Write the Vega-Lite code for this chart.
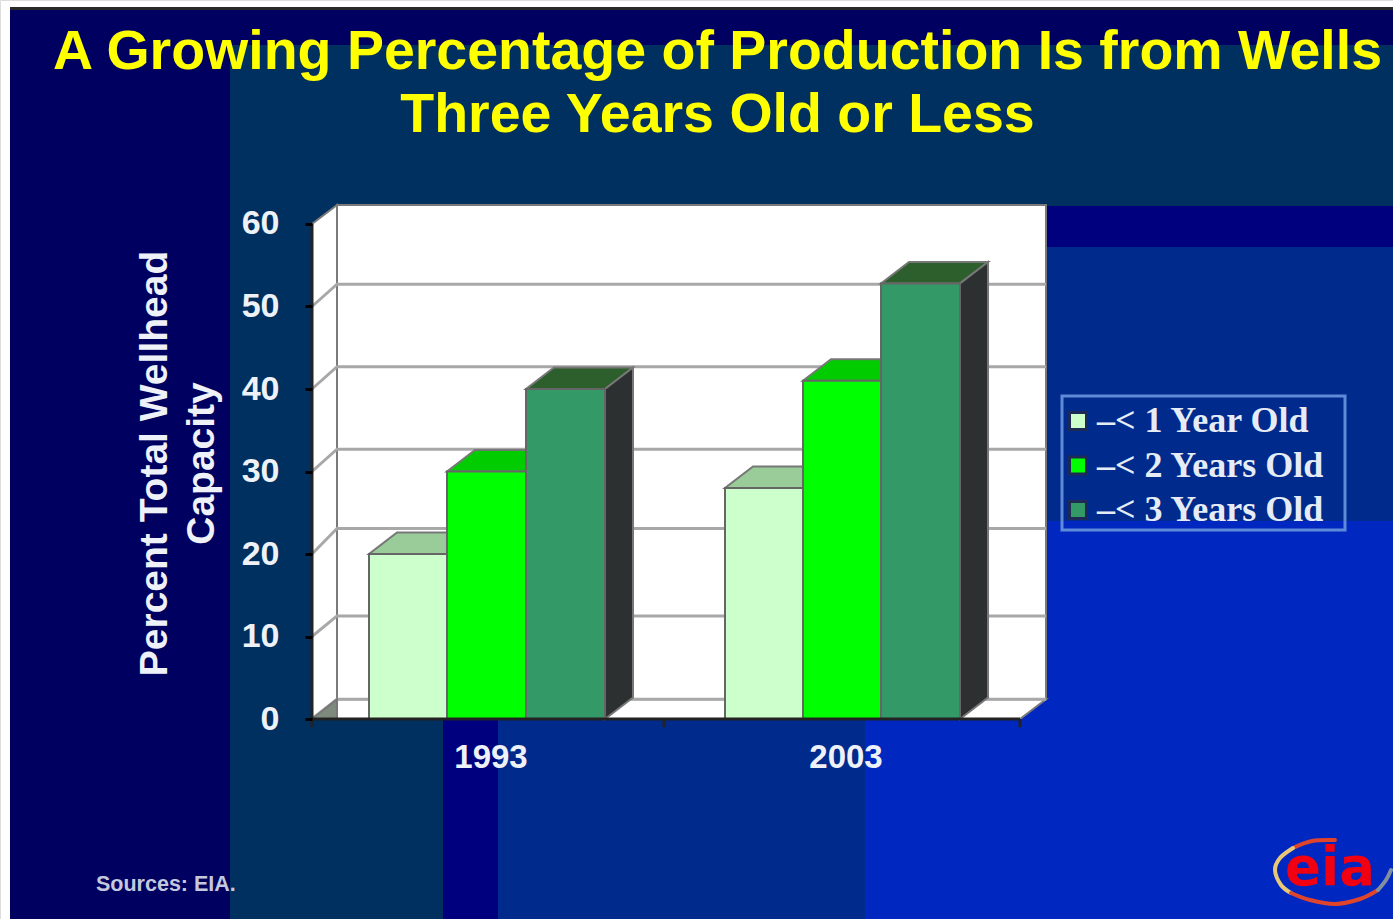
{
"$schema":"https://vega.github.io/schema/vega-lite/v6.json",
"width":1393,"height":919,"padding":0,"autosize":{"type":"none"},"background":"#ffffff",
"title":{"text":["A Growing Percentage of Production Is from Wells","Three Years Old or Less"],"font":"Liberation Sans","fontWeight":"bold","fontSize":55.5,"color":"#ffff00","anchor":"middle","frame":"group","dx":21,"offset":-143,"baseline":"top","lineHeight":63},
"datasets":{
"zones":[
{"zone":"navy","x0":10,"x1":1393,"y0":10,"y1":919},
{"zone":"rule","x0":10,"x1":1393,"y0":7,"y1":10},
{"zone":"teal","x0":230,"x1":1393,"y0":45,"y1":206},
{"zone":"teal","x0":230,"x1":443,"y0":206,"y1":919},
{"zone":"indigo","x0":1046,"x1":1393,"y0":206,"y1":247},
{"zone":"indigo","x0":443,"x1":498,"y0":719,"y1":919},
{"zone":"blue","x0":498,"x1":865,"y0":719,"y1":919},
{"zone":"blue","x0":1046,"x1":1393,"y0":247,"y1":521},
{"zone":"bright","x0":865,"x1":1393,"y0":719,"y1":919},
{"zone":"bright","x0":1000,"x1":1393,"y0":521,"y1":719}
],
"ring":[
{"arc":"a","n":1,"px":1335,"py":840},{"arc":"a","n":2,"px":1312,"py":841},{"arc":"a","n":3,"px":1293,"py":848},
{"arc":"b","n":4,"px":1293,"py":848},{"arc":"b","n":5,"px":1280,"py":858},{"arc":"b","n":6,"px":1275,"py":870},{"arc":"b","n":7,"px":1281,"py":885},{"arc":"b","n":8,"px":1291,"py":893},
{"arc":"c","n":9,"px":1291,"py":893},{"arc":"c","n":10,"px":1310,"py":900},{"arc":"c","n":11,"px":1335,"py":904},{"arc":"c","n":12,"px":1360,"py":899},{"arc":"c","n":13,"px":1378,"py":890},
{"arc":"d","n":14,"px":1378,"py":890},{"arc":"d","n":15,"px":1386,"py":880},{"arc":"d","n":16,"px":1391,"py":870}
],
"shell":[
{"id":"back","u":337,"low":2.4,"high":62.3},{"id":"back","u":1046,"low":2.4,"high":62.3},
{"id":"wall","u":312,"low":0,"high":60},{"id":"wall","u":337,"low":2.4,"high":62.3},
{"id":"floor","u":312,"low":0,"high":0},{"id":"floor","u":337,"low":0,"high":2.4},{"id":"floor","u":1020,"low":0,"high":2.4},{"id":"floor","u":1046,"low":2.4,"high":2.4}
],
"grid":[
{"tick":50,"u":312,"v":50},{"tick":50,"u":337,"v":52.7},{"tick":50,"u":1046,"v":52.7},
{"tick":40,"u":312,"v":40},{"tick":40,"u":337,"v":42.7},{"tick":40,"u":1046,"v":42.7},
{"tick":30,"u":312,"v":30},{"tick":30,"u":337,"v":32.7},{"tick":30,"u":1046,"v":32.7},
{"tick":20,"u":312,"v":20},{"tick":20,"u":337,"v":23.1},{"tick":20,"u":1046,"v":23.1},
{"tick":10,"u":312,"v":10},{"tick":10,"u":337,"v":12.5},{"tick":10,"u":1046,"v":12.5},
{"tick":0,"u":312,"v":0},{"tick":0,"u":337,"v":2.4},{"tick":0,"u":1046,"v":2.4}
],
"faces":[
{"id":"k","face":"corner","u":312,"low":0,"high":0},{"id":"k","face":"corner","u":337,"low":0,"high":2.4},
{"id":"a1","face":"top1","u":369,"low":20,"high":20},{"id":"a1","face":"top1","u":397,"low":20,"high":22.6},{"id":"a1","face":"top1","u":447,"low":20,"high":22.6},{"id":"a1","face":"top1","u":475,"low":22.6,"high":22.6},
{"id":"a2","face":"top2","u":447,"low":30,"high":30},{"id":"a2","face":"top2","u":475,"low":30,"high":32.6},{"id":"a2","face":"top2","u":526,"low":30,"high":32.6},{"id":"a2","face":"top2","u":554,"low":32.6,"high":32.6},
{"id":"a3","face":"top3","u":526,"low":40,"high":40},{"id":"a3","face":"top3","u":554,"low":40,"high":42.6},{"id":"a3","face":"top3","u":605,"low":40,"high":42.6},{"id":"a3","face":"top3","u":633,"low":42.6,"high":42.6},
{"id":"as","face":"side","u":605,"low":0,"high":40},{"id":"as","face":"side","u":633,"low":2.6,"high":42.6},
{"id":"b1","face":"top1","u":725,"low":28,"high":28},{"id":"b1","face":"top1","u":753,"low":28,"high":30.6},{"id":"b1","face":"top1","u":803,"low":28,"high":30.6},{"id":"b1","face":"top1","u":831,"low":30.6,"high":30.6},
{"id":"b2","face":"top2","u":803,"low":41,"high":41},{"id":"b2","face":"top2","u":831,"low":41,"high":43.6},{"id":"b2","face":"top2","u":881,"low":41,"high":43.6},{"id":"b2","face":"top2","u":909,"low":43.6,"high":43.6},
{"id":"b3","face":"top3","u":881,"low":52.8,"high":52.8},{"id":"b3","face":"top3","u":909,"low":52.8,"high":55.4},{"id":"b3","face":"top3","u":960,"low":52.8,"high":55.4},{"id":"b3","face":"top3","u":988,"low":55.4,"high":55.4},
{"id":"bs","face":"side","u":960,"low":0,"high":52.8},{"id":"bs","face":"side","u":988,"low":2.6,"high":55.4}
],
"bars":[
{"year":1993,"age":"–< 1 Year Old","value":20,"left":369,"right":447},
{"year":1993,"age":"–< 2 Years Old","value":30,"left":447,"right":526},
{"year":1993,"age":"–< 3 Years Old","value":40,"left":526,"right":605},
{"year":2003,"age":"–< 1 Year Old","value":28,"left":725,"right":803},
{"year":2003,"age":"–< 2 Years Old","value":41,"left":803,"right":881},
{"year":2003,"age":"–< 3 Years Old","value":52.8,"left":881,"right":960}
],
"axisLines":[
{"u0":312,"u1":312,"v0":0,"v1":60},
{"u0":312,"u1":1020,"v0":0,"v1":0},
{"u0":312,"u1":312,"v0":0,"v1":-1},
{"u0":664,"u1":664,"v0":0,"v1":-1},
{"u0":1020,"u1":1020,"v0":0,"v1":-1}
],
"years":[
{"year":"1993","u":491,"v":-4.75},
{"year":"2003","u":846,"v":-4.75}
]
},
"resolve":{"scale":{"y":"independent","fill":"independent"}},
"layer":[
{"data":{"name":"zones"},"mark":{"type":"rect"},
"encoding":{
"x":{"field":"x0","type":"quantitative","scale":{"domain":[0,1393],"nice":false,"zero":false},"axis":null},
"x2":{"field":"x1"},
"y":{"field":"y0","type":"quantitative","scale":{"domain":[919,0],"nice":false,"zero":false},"axis":null},
"y2":{"field":"y1"},
"fill":{"field":"zone","type":"nominal","scale":{"domain":["navy","rule","teal","indigo","blue","bright"],"range":["#000060","#2a2a2a","#00305f","#00007f","#002a8c","#0028c0"]},"legend":null}
}},
{"data":{"values":[{"label":"Sources: EIA.","px":96,"py":885}]},"mark":{"type":"text","font":"Liberation Sans","fontWeight":"bold","fontSize":21.5,"color":"#c4c8dc","align":"left","baseline":"middle"},
"encoding":{"x":{"field":"px","type":"quantitative","axis":null},"y":{"field":"py","type":"quantitative","scale":{"domain":[919,0],"nice":false,"zero":false},"axis":null},"text":{"field":"label"}}},
{"data":{"name":"ring"},"mark":{"type":"line","interpolate":"cardinal","strokeWidth":4,"strokeCap":"round"},
"encoding":{"x":{"field":"px","type":"quantitative","axis":null},"y":{"field":"py","type":"quantitative","scale":{"domain":[919,0],"nice":false,"zero":false},"axis":null},"order":{"field":"n","type":"quantitative"},"stroke":{"field":"arc","type":"nominal","scale":{"domain":["a","b","c","d"],"range":["#e0452c","#e8c878","#e0452c","#7f8f9f"]},"legend":null}}},
{"data":{"values":[{"label":"eia","px":1330,"py":885}]},"mark":{"type":"text","font":"DejaVu Sans","fontWeight":"bold","fontSize":53,"color":"#f00010","align":"center","baseline":"alphabetic"},
"encoding":{"x":{"field":"px","type":"quantitative","axis":null},"y":{"field":"py","type":"quantitative","scale":{"domain":[919,0],"nice":false,"zero":false},"axis":null},"text":{"field":"label"}}},
{"data":{"values":[{"box":"legend frame","x0":1062,"x1":1345,"y0":396,"y1":530}]},"mark":{"type":"rect","fillOpacity":0,"stroke":"#5f8ad8","strokeWidth":3},
"encoding":{"x":{"field":"x0","type":"quantitative","axis":null},"x2":{"field":"x1"},"y":{"field":"y0","type":"quantitative","scale":{"domain":[919,0],"nice":false,"zero":false},"axis":null},"y2":{"field":"y1"}}},
{"data":{"name":"shell"},"mark":{"type":"area","fill":"#ffffff","stroke":"#7a7a7a","strokeWidth":2,"opacity":1},
"encoding":{
"x":{"field":"u","type":"quantitative","axis":null},
"y":{"field":"low","type":"quantitative","scale":{"domain":[-24.24,87.15],"nice":false,"zero":false},"axis":{"orient":"left","offset":-312,"values":[0,10,20,30,40,50,60],"grid":false,"domain":false,"tickColor":"#000000","tickSize":7,"tickWidth":3,"labelFont":"Liberation Sans","labelFontWeight":"bold","labelFontSize":34,"labelColor":"#eef2f8","labelPadding":26,"title":["Percent Total Wellhead","Capacity"],"titleFont":"Liberation Sans","titleFontWeight":"bold","titleFontSize":39,"titleColor":"#eef2f8","titleLineHeight":47,"titleX":-158,"titleY":463,"titleAngle":-90,"titleAlign":"center","titleBaseline":"middle","zindex":1}},
"y2":{"field":"high"},
"detail":{"field":"id"}
}},
{"data":{"name":"grid"},"mark":{"type":"line","stroke":"#a8a8a8","strokeWidth":3},
"encoding":{
"x":{"field":"u","type":"quantitative","axis":null},
"y":{"field":"v","type":"quantitative","scale":{"domain":[-24.24,87.15],"nice":false,"zero":false},"axis":null},
"detail":{"field":"tick"}
}},
{"data":{"name":"faces"},"mark":{"type":"area","stroke":"#777777","strokeWidth":2,"opacity":1},
"encoding":{
"x":{"field":"u","type":"quantitative","axis":null},
"y":{"field":"low","type":"quantitative","scale":{"domain":[-24.24,87.15],"nice":false,"zero":false},"axis":null},
"y2":{"field":"high"},
"detail":{"field":"id"},
"fill":{"field":"face","type":"nominal","scale":{"domain":["top1","top2","top3","side","corner"],"range":["#99cc99","#00cc00","#2c5f2c","#2d3030","#7f8a7f"]},"legend":null}
}},
{"data":{"name":"bars"},"mark":{"type":"rect","stroke":"#666666","strokeWidth":2},
"encoding":{
"x":{"field":"left","type":"quantitative","axis":null},
"x2":{"field":"right"},
"y":{"field":"value","type":"quantitative","scale":{"domain":[-24.24,87.15],"nice":false,"zero":false},"axis":null},
"y2":{"datum":0},
"color":{"field":"age","type":"nominal","scale":{"domain":["–< 1 Year Old","–< 2 Years Old","–< 3 Years Old"],"range":["#ccffcc","#00ff00","#339966"]},
"legend":{"orient":"none","legendX":1060,"legendY":403,"title":null,"symbolType":"square","symbolSize":289,"symbolStrokeColor":"#1c2a55","symbolStrokeWidth":3,"symbolOpacity":1,"labelFont":"Liberation Serif","labelFontWeight":"bold","labelFontSize":36,"labelColor":"#e6ecf6","labelLimit":400,"labelOffset":1,"rowPadding":8.5,"padding":0}}
}},
{"data":{"name":"axisLines"},"mark":{"type":"rule","color":"#222222","strokeWidth":3},
"encoding":{
"x":{"field":"u0","type":"quantitative","axis":null},
"x2":{"field":"u1"},
"y":{"field":"v0","type":"quantitative","scale":{"domain":[-24.24,87.15],"nice":false,"zero":false},"axis":null},
"y2":{"field":"v1"}
}},
{"data":{"name":"years"},"mark":{"type":"text","font":"Liberation Sans","fontWeight":"bold","fontSize":33,"color":"#eef2f8","align":"center","baseline":"middle"},
"encoding":{
"x":{"field":"u","type":"quantitative","axis":null},
"y":{"field":"v","type":"quantitative","scale":{"domain":[-24.24,87.15],"nice":false,"zero":false},"axis":null},
"text":{"field":"year"}
}}
]
}
